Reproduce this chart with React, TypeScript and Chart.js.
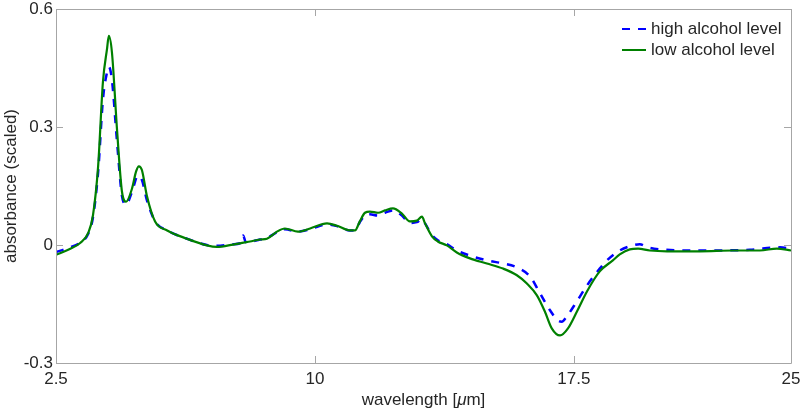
import React, { useEffect, useRef } from "react";
import { Chart, registerables } from "chart.js";

Chart.register(...registerables);

// ---- data ----
const lowX = [2.5, 2.9, 3.2, 3.43, 3.57, 3.72, 3.86, 3.98, 4.03, 4.12, 4.27, 4.41, 4.53, 4.7, 4.82, 4.9, 4.99, 5.13, 5.37, 5.72, 6.29, 6.87, 7.16, 7.63, 8.12, 8.41, 8.61, 8.9, 9.13, 9.51, 9.86, 10.35, 10.64, 11.01, 11.16, 11.3, 11.45, 11.59, 11.83, 12.03, 12.26, 12.52, 12.75, 12.95, 13.1, 13.19, 13.39, 13.56, 13.82, 14.11, 14.49, 14.98, 15.45, 15.85, 16.14, 16.43, 16.66, 16.86, 17.1, 17.33, 17.59, 17.88, 18.25, 18.63, 18.83, 19.12, 19.36, 19.7, 20.2, 21.15, 22.11, 22.89, 23.38, 23.79];
const lowY = [-0.025, -0.01, 0.005, 0.03, 0.075, 0.2, 0.415, 0.5, 0.532, 0.49, 0.29, 0.136, 0.11, 0.143, 0.187, 0.2, 0.19, 0.126, 0.06, 0.037, 0.016, -0.001, -0.005, 0.001, 0.009, 0.014, 0.016, 0.034, 0.042, 0.034, 0.042, 0.055, 0.049, 0.037, 0.037, 0.06, 0.082, 0.085, 0.082, 0.088, 0.093, 0.08, 0.06, 0.062, 0.072, 0.055, 0.022, 0.009, -0.001, -0.019, -0.034, -0.047, -0.06, -0.077, -0.098, -0.128, -0.169, -0.212, -0.23, -0.212, -0.169, -0.118, -0.067, -0.039, -0.024, -0.011, -0.009, -0.014, -0.016, -0.016, -0.014, -0.014, -0.009, -0.014];

const highX = [2.5, 2.9, 3.2, 3.43, 3.57, 3.72, 3.86, 3.98, 4.03, 4.12, 4.27, 4.41, 4.53, 4.7, 4.87, 4.99, 5.13, 5.37, 5.72, 6.29, 6.87, 7.16, 7.63, 7.85, 7.92, 8.0, 8.41, 8.61, 8.9, 9.13, 9.51, 9.86, 10.35, 10.64, 11.01, 11.16, 11.3, 11.45, 11.59, 11.83, 12.03, 12.26, 12.52, 12.75, 12.95, 13.1, 13.19, 13.39, 13.56, 13.82, 14.11, 14.49, 14.98, 15.45, 15.85, 16.23, 16.52, 16.81, 17.04, 17.15, 17.3, 17.59, 17.88, 18.25, 18.46, 18.83, 19.21, 19.41, 19.64, 19.99, 21.15, 22.6, 23.47, 23.79];
const highY = [-0.018, -0.006, 0.006, 0.028, 0.07, 0.185, 0.37, 0.44, 0.453, 0.42, 0.26, 0.125, 0.103, 0.135, 0.176, 0.165, 0.115, 0.06, 0.037, 0.016, 0.0, -0.002, 0.002, 0.005, 0.024, 0.007, 0.014, 0.018, 0.032, 0.04, 0.034, 0.04, 0.052, 0.048, 0.037, 0.037, 0.058, 0.075, 0.078, 0.075, 0.082, 0.088, 0.075, 0.056, 0.058, 0.066, 0.055, 0.025, 0.012, 0.002, -0.014, -0.027, -0.039, -0.047, -0.057, -0.08, -0.123, -0.166, -0.192, -0.195, -0.181, -0.143, -0.103, -0.06, -0.039, -0.014, -0.001, 0.002, -0.006, -0.011, -0.014, -0.012, -0.006, -0.009];

const seriesNames = ["high alcohol level", "low alcohol level"];
const seriesColors = ["#0000ff", "#008000"];
const xTickValues = [2.5, 10, 17.5, 23.79];
const xTickLabels = ["2.5", "10", "17.5", "25"];
const yTickValues = [-0.3, 0, 0.3, 0.6];
const yTickLabels = ["-0.3", "0", "0.3", "0.6"];
const xTitleParts = ["wavelength [", "\u03bc", "m]"];
const yTitle = "absorbance (scaled)";

const FONT = "'Liberation Sans', Arial, sans-serif";
const AXIS_GRAY = "#a6a6a6";
const TEXT = "#262626";

const decorPlugin = {
  id: "decor",
  afterDraw(chart: any) {
    const ctx = chart.ctx as CanvasRenderingContext2D;
    const a = chart.chartArea;
    const xs = chart.scales.x;
    const ys = chart.scales.y;
    ctx.save();
    // box
    ctx.strokeStyle = AXIS_GRAY;
    ctx.lineWidth = 1;
    ctx.beginPath();
    ctx.rect(Math.round(a.left) + 0.5, Math.round(a.top) + 0.5, Math.round(a.right - a.left), Math.round(a.bottom - a.top));
    ctx.stroke();
    // ticks inward
    const TL = 7;
    ctx.beginPath();
    xTickValues.forEach((v) => {
      const px = Math.round(xs.getPixelForValue(v)) + 0.5;
      ctx.moveTo(px, a.bottom);
      ctx.lineTo(px, a.bottom - TL);
      ctx.moveTo(px, a.top);
      ctx.lineTo(px, a.top + TL);
    });
    yTickValues.forEach((v) => {
      const py = Math.round(ys.getPixelForValue(v)) + 0.5;
      ctx.moveTo(a.left, py);
      ctx.lineTo(a.left + TL, py);
      ctx.moveTo(a.right, py);
      ctx.lineTo(a.right - TL, py);
    });
    ctx.stroke();

    // x title with italic mu
    ctx.fillStyle = TEXT;
    ctx.textBaseline = "middle";
    ctx.textAlign = "left";
    const normal = `17px ${FONT}`;
    const italic = `italic 17px ${FONT}`;
    const fonts = [normal, italic, normal];
    let total = 0;
    const widths = xTitleParts.map((p, i) => {
      ctx.font = fonts[i];
      const w = ctx.measureText(p).width;
      total += w;
      return w;
    });
    let cx = (a.left + a.right) / 2 - total / 2;
    const ty = 400;
    xTitleParts.forEach((p, i) => {
      ctx.font = fonts[i];
      ctx.fillText(p, cx, ty);
      cx += widths[i];
    });

    // y title
    ctx.save();
    ctx.translate(11, (a.top + a.bottom) / 2);
    ctx.rotate(-Math.PI / 2);
    ctx.textAlign = "center";
    ctx.textBaseline = "middle";
    ctx.font = normal;
    ctx.fillText(yTitle, 0, 0);
    ctx.restore();

    // legend
    const rows = [29, 50];
    seriesNames.forEach((name, i) => {
      const y = rows[i];
      ctx.strokeStyle = seriesColors[i];
      ctx.lineWidth = 2;
      ctx.setLineDash(i === 0 ? [8, 8] : []);
      ctx.beginPath();
      ctx.moveTo(622, y);
      ctx.lineTo(646, y);
      ctx.stroke();
      ctx.setLineDash([]);
      ctx.font = normal;
      ctx.fillStyle = TEXT;
      ctx.textAlign = "left";
      ctx.textBaseline = "middle";
      ctx.fillText(name, 651, y);
    });
    ctx.restore();
  },
};

export default function App() {
  const ref = useRef<HTMLCanvasElement>(null);
  useEffect(() => {
    document.body.style.margin = "0";
    const canvas = ref.current;
    if (!canvas) return;
    const low = lowX.map((x, i) => ({ x, y: lowY[i] }));
    const high = highX.map((x, i) => ({ x, y: highY[i] }));
    const chart = new Chart(canvas, {
      type: "line",
      data: {
        datasets: [
          {
            label: seriesNames[1],
            data: low,
            borderColor: seriesColors[1],
            borderWidth: 2.2,
            pointRadius: 0,
            cubicInterpolationMode: "monotone",
            fill: false,
          },
          {
            label: seriesNames[0],
            data: high,
            borderColor: seriesColors[0],
            borderWidth: 2.5,
            borderDash: [8, 8],
            pointRadius: 0,
            cubicInterpolationMode: "monotone",
            fill: false,
          },
        ],
      },
      options: {
        animation: false,
        responsive: false,
        maintainAspectRatio: false,
        layout: { padding: { top: 9, right: 10, left: 0, bottom: 0 } },
        plugins: { legend: { display: false }, tooltip: { enabled: false } },
        scales: {
          x: {
            type: "linear",
            min: 2.5,
            max: 23.79,
            grid: { display: false, drawTicks: false },
            border: { display: false },
            afterBuildTicks: (s: any) => {
              s.ticks = xTickValues.map((v) => ({ value: v }));
            },
            afterFit: (s: any) => {
              s.height = 49;
              s.paddingLeft = 0;
              s.paddingRight = 0;
            },
            ticks: {
              autoSkip: false,
              maxRotation: 0,
              padding: 8,
              color: TEXT,
              font: { family: FONT, size: 17, lineHeight: 1 },
              callback: (_v: any, i: number) => xTickLabels[i],
            },
          },
          y: {
            type: "linear",
            min: -0.3,
            max: 0.6,
            grid: { display: false, drawTicks: false },
            border: { display: false },
            afterBuildTicks: (s: any) => {
              s.ticks = yTickValues.map((v) => ({ value: v }));
            },
            afterFit: (s: any) => {
              s.width = 56;
              s.paddingTop = 0;
              s.paddingBottom = 0;
            },
            ticks: {
              padding: 3,
              color: TEXT,
              font: { family: FONT, size: 17, lineHeight: 1 },
              callback: (_v: any, i: number) => yTickLabels[i],
            },
          },
        },
      },
      plugins: [decorPlugin],
    } as any);
    return () => chart.destroy();
  }, []);
  return (
    <div style={{ width: 801, height: 412 }}>
      <canvas ref={ref} width={801} height={412} />
    </div>
  );
}
